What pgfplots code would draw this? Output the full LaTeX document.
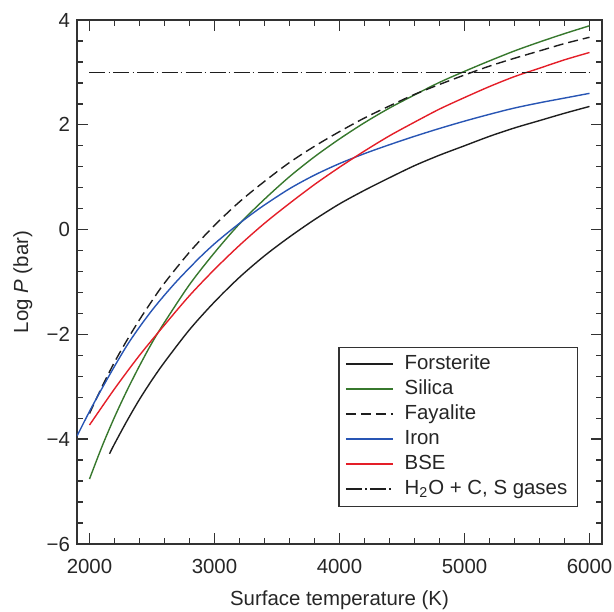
\documentclass[border=0pt]{standalone}
\usepackage{fontspec}
\setmainfont{Liberation Sans}
\usepackage{pgfplots}
\pgfplotsset{compat=1.18}
\usetikzlibrary{calc}
\definecolor{cgreen}{RGB}{55,120,45}
\definecolor{cblue}{RGB}{40,85,180}
\definecolor{cred}{RGB}{228,30,40}
\definecolor{cblack}{RGB}{30,30,30}
\definecolor{caxis}{RGB}{50,50,50}
\begin{document}
\begin{tikzpicture}
\begin{axis}[name=ax, scale only axis, width=262.5pt, height=262pt,
 xmin=1900, xmax=6100, ymin=-6, ymax=4,
 xtick={2000,3000,4000,5000,6000}, xticklabels={2000,3000,4000,5000,6000},
 ytick={-6,-4,-2,0,2,4}, yticklabels={−6,−4,−2,0,2,4},
 minor x tick num=4, minor y tick num=4,
 major tick length=5.5pt, minor tick length=3pt,
 tick style={caxis, line width=0.7pt},
 axis line style={caxis, line width=0.8pt},
 tick label style={font=\fontsize{10.2}{12}\selectfont, text=black!85},
 xticklabel style={yshift=-4.2pt},
 xlabel={Surface temperature (K)}, ylabel={Log \textit{P} (bar)},
 label style={font=\fontsize{10.2}{12}\selectfont, text=black!85},
 xlabel style={at={(axis description cs:0.5,-0.107)}, anchor=center},
 ylabel style={at={(axis description cs:-0.103,0.5)}, anchor=center},
 legend style={at={(axis description cs:0.954,0.0706)}, anchor=south east, draw=caxis, line width=0.6pt,
   font=\fontsize{10.2}{12}\selectfont, text=black!85, inner xsep=3pt, inner ysep=3.4pt, row sep=2.5pt,
   nodes={inner ysep=0pt, text height=7.4pt, text depth=2.6pt}},
 legend cell align=left,
 legend image code/.code={\draw[#1, line width=0.95pt] (0pt,0.25pt) -- (23.5pt,0.25pt); \path (27pt,0pt);},
 every axis plot/.append style={line width=0.7pt},
]
\addplot[cblack, smooth] coordinates {
(2160,-4.28) (2200,-4.09) (2300,-3.65) (2400,-3.24) (2500,-2.87) (2600,-2.53)
(2800,-1.91) (3000,-1.38) (3200,-0.91) (3400,-0.50) (3600,-0.14) (3800,0.19)
(4000,0.49) (4200,0.75) (4400,0.99) (4600,1.22) (4800,1.42) (5000,1.60)
(5200,1.78) (5400,1.94) (5600,2.08) (5800,2.22) (6000,2.35)};
\addlegendentry{Forsterite}
\addplot[cgreen, smooth] coordinates {
(2000,-4.76) (2100,-4.14) (2200,-3.58) (2300,-3.07) (2400,-2.60) (2500,-2.16)
(2600,-1.77) (2800,-1.05) (3000,-0.44) (3200,0.11) (3400,0.58) (3600,1.01)
(3800,1.39) (4000,1.73) (4200,2.04) (4400,2.32) (4600,2.57) (4800,2.81)
(5000,3.02) (5200,3.22) (5400,3.41) (5600,3.58) (5800,3.74) (6000,3.89)};
\addlegendentry{Silica}
\addplot[cblack, smooth, dash pattern=on 5pt off 2.5pt] coordinates {
(2000,-3.51) (2100,-3.00) (2200,-2.53) (2300,-2.11) (2400,-1.72) (2500,-1.36)
(2600,-1.02) (2800,-0.43) (3000,0.08) (3200,0.53) (3400,0.92) (3600,1.28)
(3800,1.59) (4000,1.87) (4200,2.13) (4400,2.36) (4600,2.58) (4800,2.77)
(5000,2.95) (5200,3.12) (5400,3.27) (5600,3.41) (5800,3.55) (6000,3.67)};
\addlegendentry{Fayalite}
\addplot[cblue, smooth] coordinates {
(1900,-3.94) (2000,-3.47) (2100,-3.03) (2200,-2.61) (2300,-2.21) (2400,-1.86)
(2500,-1.54) (2600,-1.25) (2700,-0.98) (2800,-0.73) (2900,-0.49) (3000,-0.27)
(3100,-0.07) (3200,0.12) (3300,0.30) (3400,0.47) (3600,0.78) (3800,1.04)
(4000,1.26) (4200,1.45) (4400,1.62) (4600,1.78) (4800,1.93) (5000,2.07)
(5200,2.20) (5400,2.32) (5600,2.42) (5800,2.51) (6000,2.60)};
\addlegendentry{Iron}
\addplot[cred, smooth] coordinates {
(2000,-3.73) (2200,-3.04) (2400,-2.40) (2600,-1.82) (2800,-1.26) (3000,-0.76)
(3200,-0.30) (3400,0.12) (3600,0.50) (3800,0.86) (4000,1.19) (4200,1.50)
(4400,1.79) (4600,2.05) (4800,2.30) (5000,2.52) (5200,2.73) (5400,2.92)
(5600,3.08) (5800,3.24) (6000,3.38)};
\addlegendentry{BSE}
\addplot[cblack, dash pattern=on 8pt off 1.6pt on 0.8pt off 1.6pt] coordinates {
(2000,3) (6000,3)};
\addlegendentry{H\textsubscript{2}O + C, S gases}
\end{axis}
\pgfresetboundingbox
\useasboundingbox ($(ax.south west)+(-38.5pt,-34pt)$) rectangle ($(ax.north east)+(6pt,10pt)$);
\end{tikzpicture}
\end{document}
